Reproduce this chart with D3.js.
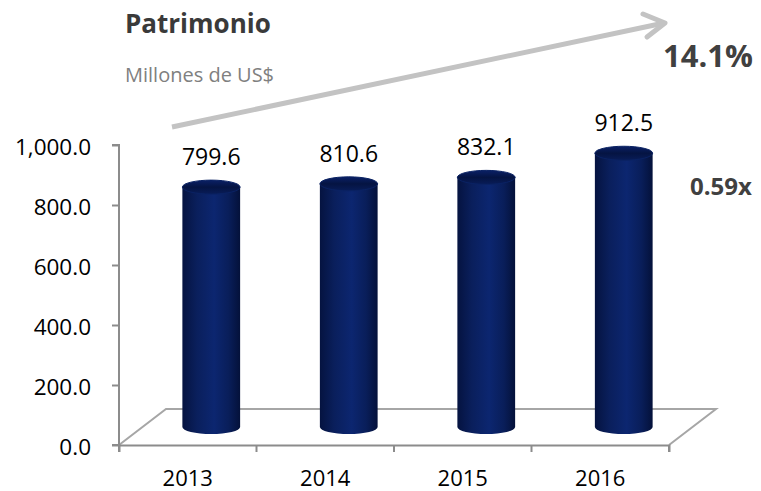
<!DOCTYPE html>
<html>
<head>
<script src="https://d3js.org/d3.v7.min.js"></script>
<style>
body { margin: 0; background: #fff; }
text { font-family: "Open Sans", sans-serif; }
.axis path, .axis line { stroke: #8c8c8c; stroke-width: 2; }
.floor { fill: none; stroke: #a6a6a6; stroke-width: 2; }
</style>
</head>
<body>
<div id="chart"></div>
<script>
// data
var years = ["2013", "2014", "2015", "2016"];
var values = [799.6, 810.6, 832.1, 912.5];
var yTicks = [0, 200, 400, 600, 800, 1000];
var growth = "14.1%";
var ratio = "0.59x";

var W = 761, H = 491;
var depth = {dx: 47, dy: -36};   // 3d floor offset

var svg = d3.select("#chart").append("svg")
  .attr("width", W).attr("height", H);

var x = d3.scaleBand().domain(years).range([119, 669]).padding(0);
var y = d3.scaleLinear().domain([0, 1000]).range([445, 145]);

// gradients for the cylinders
var defs = svg.append("defs");
var g1 = defs.append("linearGradient").attr("id", "body")
  .attr("x1", "0%").attr("x2", "100%");
[[0, "#051340"], [0.25, "#0a1f5c"], [0.55, "#0c2670"], [0.8, "#091e5a"], [1, "#04113a"]]
  .forEach(function(s) { g1.append("stop").attr("offset", s[0]).attr("stop-color", s[1]); });
var g2 = defs.append("linearGradient").attr("id", "cap")
  .attr("x1", "0%").attr("x2", "0%").attr("y1", "0%").attr("y2", "100%");
[[0, "#0a2066"], [0.5, "#051442"], [1, "#081c58"]]
  .forEach(function(s) { g2.append("stop").attr("offset", s[0]).attr("stop-color", s[1]); });

// floor
var fx0 = x.range()[0], fx1 = x.range()[1], fy = y(0);
svg.append("path").attr("class", "floor")
  .attr("d", "M" + fx0 + "," + fy +
    "L" + (fx0 + depth.dx) + "," + (fy + depth.dy) +
    "L" + (fx1 + depth.dx) + "," + (fy + depth.dy) +
    "L" + fx1 + "," + fy);

// axes
var yAxis = svg.append("g").attr("class", "axis")
  .attr("transform", "translate(119,0)")
  .call(d3.axisLeft(y).tickValues(yTicks).tickSize(7).tickPadding(21)
    .tickFormat(d3.format(",.1f")));
yAxis.selectAll("text").attr("font-size", 22.5).attr("fill", "#000").attr("dy", "0.42em");

var xAxis = svg.append("g").attr("class", "axis")
  .attr("transform", "translate(0,445)")
  .call(d3.axisBottom(x).tickSize(7).tickPadding(18).tickValues(years));
xAxis.selectAll(".tick line").remove();
xAxis.selectAll("text").attr("font-size", 22).attr("fill", "#000");
// tick marks at band edges
xAxis.selectAll(".edge").data(years.concat(["end"])).enter().append("line")
  .attr("x1", function(d, i) { return i < years.length ? x(d) : x.range()[1]; })
  .attr("x2", function(d, i) { return i < years.length ? x(d) : x.range()[1]; })
  .attr("y1", 0).attr("y2", 7);
yAxis.select(".domain").attr("d", "M-7," + y(1000) + "H0V" + y(0) + "H-7");

// cylinders
var bw = x.bandwidth() * 0.42, rx = bw / 2, ry = 7;
function cx(d) { return x(d) + x.bandwidth() / 2 + depth.dx / 2; }
var bars = svg.selectAll(".bar").data(years).enter().append("g").attr("class", "bar");
bars.append("path")
  .attr("fill", "url(#body)")
  .attr("d", function(d, i) {
    var c = cx(d), yt = y(values[i]) + depth.dy / 2, yb = y(0) + depth.dy / 2;
    return "M" + (c - rx) + "," + yt + "L" + (c - rx) + "," + yb +
      "A" + rx + "," + ry + " 0 0 0 " + (c + rx) + "," + yb +
      "L" + (c + rx) + "," + yt + "Z";
  });
bars.append("ellipse")
  .attr("cx", cx)
  .attr("cy", function(d, i) { return y(values[i]) + depth.dy / 2; })
  .attr("rx", rx).attr("ry", ry)
  .attr("fill", "url(#cap)").attr("stroke", "#0a2263").attr("stroke-width", 1);

// value labels
svg.selectAll(".val").data(years).enter().append("text")
  .attr("x", cx)
  .attr("y", function(d, i) { return y(values[i]) + depth.dy / 2 - 22; })
  .attr("text-anchor", "middle").attr("font-size", 23).attr("fill", "#000")
  .text(function(d, i) { return d3.format(".1f")(values[i]); });

// titles
svg.append("text").attr("x", 125).attr("y", 33)
  .attr("font-size", 26).attr("font-weight", "bold").attr("fill", "#3a3a3a")
  .text("Patrimonio");
svg.append("text").attr("x", 125).attr("y", 82)
  .attr("font-size", 20).attr("fill", "#808080")
  .text("Millones de US$");

// growth arrow
svg.append("path")
  .attr("d", "M172,127L664,23")
  .attr("stroke", "#c3c3c3").attr("stroke-width", 5).attr("fill", "none");
svg.append("path")
  .attr("d", "M643,14L665,23L647,37")
  .attr("stroke", "#c3c3c3").attr("stroke-width", 5).attr("fill", "none")
  .attr("stroke-linecap", "round").attr("stroke-linejoin", "round");

svg.append("text").attr("x", 663).attr("y", 67)
  .attr("font-size", 31).attr("font-weight", "bold").attr("fill", "#404040")
  .text(growth);
svg.append("text").attr("x", 690).attr("y", 195)
  .attr("font-size", 24).attr("font-weight", "bold").attr("fill", "#404040")
  .text(ratio);
</script>
</body>
</html>
